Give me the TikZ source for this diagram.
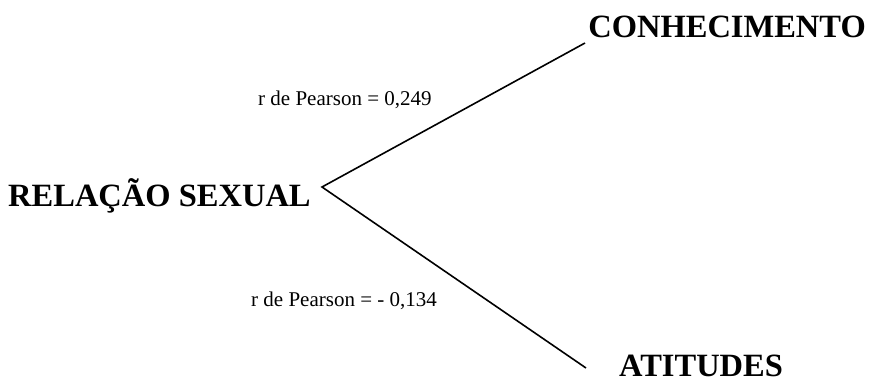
\documentclass[tikz,border=0pt]{standalone}
\usepackage{fontspec}
\setmainfont{Liberation Serif}
\usepackage{tikz}
\usetikzlibrary{positioning}

\begin{document}
\begin{tikzpicture}[
  x=1pt, y=-1pt,
  var/.style={anchor=base west, inner sep=0pt, font=\fontsize{32.5}{36}\selectfont\bfseries},
  coef/.style={anchor=base west, inner sep=0pt, font=\fontsize{21}{24}\selectfont},
  ramo/.style={line width=1.6pt, draw=black}
]
  \useasboundingbox (0,0) rectangle (869,383);
  % 变量
  \node[var] (rel) at (8,206) {RELAÇÃO SEXUAL};
  \node[var, anchor=base east] (con) at (866,37) {CONHECIMENTO};
  \node[var] (ati) at (619,376) {ATITUDES};

  % 分支端点
  \coordinate (vertice) at (322,187);
  \coordinate (fimcon) at (585,43);
  \coordinate (fimati) at (586,368);

  % 两条分支
  \draw[ramo] (fimcon) -- (vertice) -- (fimati);

  % 相关系数
  \node[coef] (rcon) at (258,105) {r de Pearson = 0,249};
  \node[coef] (rati) at (251,306) {r de Pearson = - 0,134};
\end{tikzpicture}
\end{document}
